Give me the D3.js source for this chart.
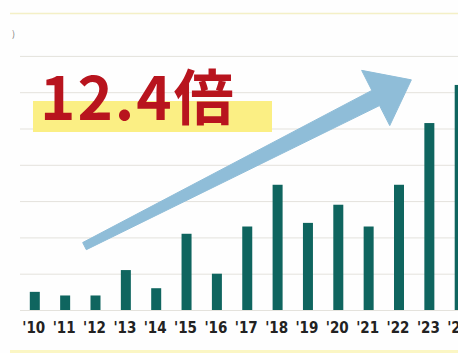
<!DOCTYPE html>
<html>
<head>
<meta charset="utf-8">
<script src="https://cdn.jsdelivr.net/npm/d3@7"></script>
<style>
  html, body { margin: 0; padding: 0; background: #fefefe; overflow: hidden; }
</style>
</head>
<body>
<div id="chart"></div>
<script>
// categories + values (grid units)
const years = ["'10", "'11", "'12", "'13", "'14", "'15", "'16", "'17", "'18", "'19", "'20", "'21", "'22", "'23", "'24"];
const values = [0.5, 0.4, 0.4, 1.1, 0.6, 2.1, 1.0, 2.3, 3.45, 2.4, 2.9, 2.3, 3.45, 5.15, 6.2];
const gridTicks = [0, 1, 2, 3, 4, 5, 6, 7];
const headline = '12.4倍';

const W = 458, H = 353;

const svg = d3.select('#chart').append('svg')
  .attr('width', W).attr('height', H)
  .attr('xmlns', 'http://www.w3.org/2000/svg');

svg.append('rect').attr('width', W).attr('height', H).attr('fill', '#fefefe');

const x = d3.scalePoint().domain(years).range([34.8, 459.7]);
const y = d3.scaleLinear().domain([0, 7]).range([310, 55.9]);
const barW = 10;

// frame lines (pale yellow)
svg.append('line').attr('x1', 10).attr('x2', W).attr('y1', 13.5).attr('y2', 13.5)
  .attr('stroke', '#f4f0c6').attr('stroke-width', 1.5);
svg.append('rect').attr('x', 10).attr('y', 350).attr('width', W - 10).attr('height', 3)
  .attr('fill', '#fbf6c4');

// unit label, mostly cut off
svg.append('text').attr('x', 12).attr('y', 37).attr('font-size', 9)
  .attr('font-family', 'Noto Sans CJK JP, sans-serif').attr('fill', '#777').text(')');

// gridlines
svg.append('g').selectAll('line')
  .data(gridTicks)
  .enter().append('line')
  .attr('x1', 20).attr('x2', W)
  .attr('y1', d => y(d) + 0.5).attr('y2', d => y(d) + 0.5)
  .attr('stroke', '#e4e2dc').attr('stroke-width', 1);

// headline highlight + text
svg.append('rect').attr('x', 33).attr('y', 101).attr('width', 239).attr('height', 31)
  .attr('fill', '#fbef84');
svg.append('text')
  .attr('x', 40).attr('y', 120)
  .attr('font-family', 'Noto Sans CJK JP, Liberation Sans, sans-serif')
  .attr('font-weight', 700).attr('font-size', 60)
  .attr('letter-spacing', 2)
  .attr('fill', '#b8141e')
  .text(headline);

// bars
svg.append('g').selectAll('rect')
  .data(values)
  .enter().append('rect')
  .attr('x', (d, i) => x(years[i]) - barW / 2)
  .attr('y', d => y(d))
  .attr('width', barW)
  .attr('height', d => y(0) - y(d))
  .attr('fill', '#0f655f');

// trend arrow, anchored to the scales
const tail = [x("'12") - 11, y(1.76)];
const tip = [x("'23") - 18, y(6.34)];
const dx = tip[0] - tail[0], dy = tip[1] - tail[1];
const len = Math.hypot(dx, dy);
const ux = dx / len, uy = dy / len, nx = -uy, ny = ux;
const headLen = 40, headHalf = 31, tailHalf = 4, neckHalf = 8.5;
const base = [tip[0] - ux * headLen, tip[1] - uy * headLen];
const pt = (p, s) => [p[0] + nx * s, p[1] + ny * s];
const arrowPts = [
  pt(tail, tailHalf), pt(base, neckHalf), pt(base, headHalf), tip,
  pt(base, -headHalf), pt(base, -neckHalf), pt(tail, -tailHalf)
];
svg.append('path')
  .attr('d', d3.line()(arrowPts) + 'Z')
  .attr('fill', '#8fbdd8')
  .attr('stroke', '#8fbdd8').attr('stroke-width', 1).attr('stroke-linejoin', 'round');

// axis labels
svg.append('g').selectAll('text')
  .data(years)
  .enter().append('text')
  .attr('x', d => x(d) - 1)
  .attr('y', 333)
  .attr('text-anchor', 'middle')
  .attr('font-family', 'Liberation Sans Narrow, DejaVu Sans Condensed, sans-serif')
  .attr('font-weight', 700)
  .attr('font-size', 15)
  .attr('fill', '#222')
  .text(d => d);
</script>
</body>
</html>
